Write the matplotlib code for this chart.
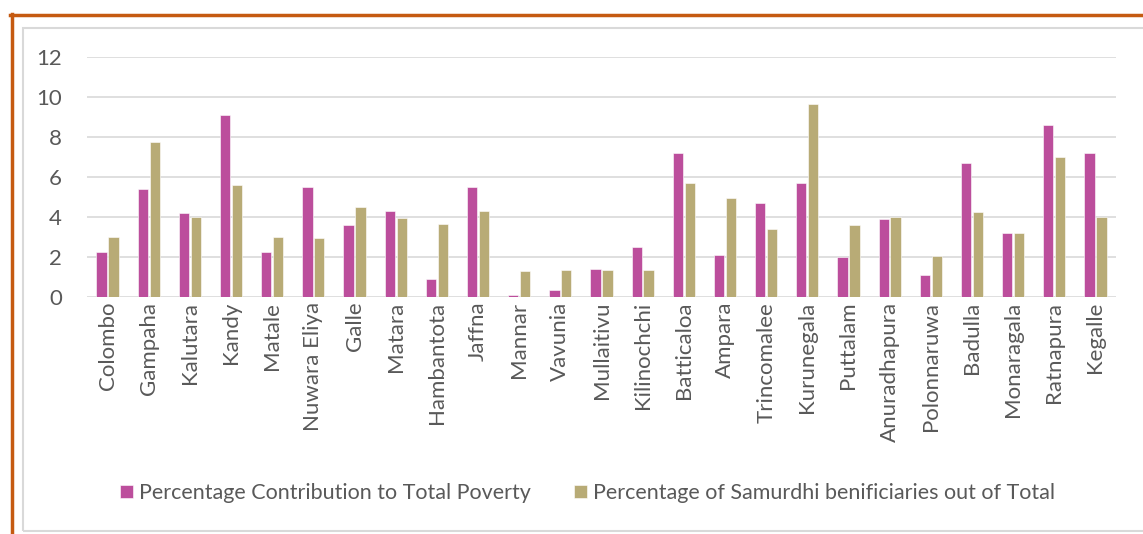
import numpy as np
import matplotlib.pyplot as plt
from matplotlib.patches import Rectangle
from matplotlib.lines import Line2D

districts = ['Colombo', 'Gampaha', 'Kalutara', 'Kandy', 'Matale', 'Nuwara Eliya',
             'Galle', 'Matara', 'Hambantota', 'Jaffna', 'Mannar', 'Vavunia',
             'Mullaitivu', 'Kilinochchi', 'Batticaloa', 'Ampara', 'Trincomalee',
             'Kurunegala', 'Puttalam', 'Anuradhapura', 'Polonnaruwa', 'Badulla',
             'Monaragala', 'Ratnapura', 'Kegalle']
poverty_share = [2.27, 5.38, 4.18, 9.1, 2.27, 5.48, 3.58, 4.28, 0.88, 5.48, 0.1, 0.36,
                 1.38, 2.48, 7.18, 2.08, 4.69, 5.68, 1.98, 3.88, 1.08, 6.68, 3.18, 8.6, 7.18]
samurdhi_share = [3.01, 7.76, 3.99, 5.58, 2.98, 2.94, 4.49, 3.93, 3.63, 4.29, 1.28, 1.33,
                  1.33, 1.33, 5.68, 4.96, 3.38, 9.63, 3.58, 3.99, 2.04, 4.23, 3.19, 6.98, 3.99]
series_names = ['Percentage Contribution to Total Poverty',
                'Percentage of Samurdhi benificiaries out of Total']

pink = '#BC4E9C'
olive = '#B8AB76'
text_col = '#595959'
plt.rcParams['font.family'] = ['Lato', 'DejaVu Sans']

fig = plt.figure(figsize=(11.43, 5.34), dpi=100)

# outer frame: orange top/left edges and grey chart box
fig.add_artist(Line2D([10 / 1143, 1.0], [1 - 15 / 534] * 2, color='#C55A11', lw=2.5))
fig.add_artist(Line2D([11.5 / 1143] * 2, [1 - 14 / 534, 0], color='#C55A11', lw=2.5))
fig.add_artist(Rectangle((23 / 1143, 3 / 534), 1.2, 1 - 31 / 534, transform=fig.transFigure,
                         fill=False, edgecolor='#D9D9D9', lw=1.5))

ax = fig.add_axes([87 / 1143, 1 - 297 / 534, 1029 / 1143, 240 / 534])
x = np.arange(len(districts))
w = 0.25
ax.bar(x - 0.145, poverty_share, w, color=pink, edgecolor='white', lw=0.4,
       label=series_names[0], zorder=3)
ax.bar(x + 0.145, samurdhi_share, w, color=olive, edgecolor='white', lw=0.4,
       label=series_names[1], zorder=3)

ax.set_xlim(-0.5, len(districts) - 0.5)
ax.set_ylim(0, 12)
ax.set_yticks(range(0, 13, 2))
ax.yaxis.grid(True, color='#D9D9D9', lw=1.2, zorder=0)
for s in ax.spines.values():
    s.set_visible(False)
ax.tick_params(length=0)
ax.tick_params(axis='y', labelsize=16, labelcolor=text_col, pad=18)
ax.set_xticks(x)
ax.set_xticklabels(districts, rotation=90, fontsize=16, color=text_col)

fig.legend(loc='center', bbox_to_anchor=(0.514, 1 - 493 / 534), ncol=2, frameon=False,
           fontsize=15.5, labelcolor=text_col, handlelength=0.6, handleheight=0.6,
           handletextpad=0.3, columnspacing=2.0)

fig.savefig('out.png', dpi=100)
